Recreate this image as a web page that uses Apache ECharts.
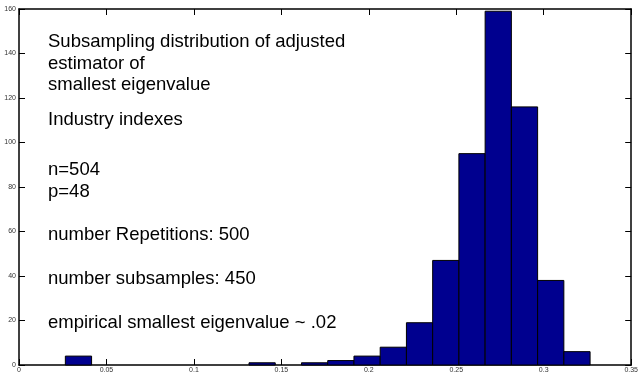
<!DOCTYPE html>
<html>
<head>
<meta charset="utf-8">
<script src="https://cdn.jsdelivr.net/npm/echarts@6/dist/echarts.min.js"></script>
<style>
html,body{margin:0;padding:0;background:#fff;}
#chart{width:641px;height:374px;}
</style>
</head>
<body>
<div id="chart"></div>
<script>
const binStart = [0.0265,0.0415,0.0565,0.0715,0.0865,0.1015,0.1165,0.1315,0.1465,0.1615,0.1765,0.1915,0.2065,0.2215,0.2365,0.2515,0.2665,0.2815,0.2965,0.3115];
const binEnd   = [0.0415,0.0565,0.0715,0.0865,0.1015,0.1165,0.1315,0.1465,0.1615,0.1765,0.1915,0.2065,0.2215,0.2365,0.2515,0.2665,0.2815,0.2965,0.3115,0.3265];
const counts   = [4,0,0,0,0,0,0,1,0,1,2,4,8,19,47,95,159,116,38,6];
const xTickLabels = ['0','0.05','0.1','0.15','0.2','0.25','0.3','0.35'];
const yTickLabels = ['0','20','40','60','80','100','120','140','160'];
const annotationLines = [
  'Subsampling distribution of adjusted',
  'estimator of',
  'smallest eigenvalue',
  'Industry indexes',
  'n=504',
  'p=48',
  'number Repetitions: 500',
  'number subsamples: 450',
  'empirical smallest eigenvalue ~ .02'
];
const annotationY = [42.7, 64, 85, 120, 170.5, 192, 235.8, 279.2, 323];

const chart = echarts.init(document.getElementById('chart'));
const lblFont = {fontSize: 7, color: '#333', fontFamily: 'Liberation Sans, Arial, sans-serif'};
const axisLine = {show: true, onZero: false, lineStyle: {color: '#000', width: 1.5}};
const tick = {show: true, inside: true, length: 6, lineStyle: {color: '#000', width: 1}};

const data = counts.map((c, i) => [binStart[i], binEnd[i], c]);

chart.setOption({
  animation: false,
  backgroundColor: '#fff',
  grid: {left: 19, right: 7, top: 9, bottom: 9, containLabel: false},
  xAxis: [
    {type: 'value', min: 0, max: 0.35, interval: 0.05, position: 'bottom',
     axisLine: axisLine, axisTick: tick, splitLine: {show: false},
     axisLabel: Object.assign({margin: 2, formatter: (v) => xTickLabels[Math.round(v / 0.05)]}, lblFont)},
    {type: 'value', min: 0, max: 0.35, interval: 0.05, position: 'top',
     axisLine: axisLine, axisTick: tick, splitLine: {show: false}, axisLabel: {show: false}}
  ],
  yAxis: [
    {type: 'value', min: 0, max: 160, interval: 20, position: 'left',
     axisLine: axisLine, axisTick: tick, splitLine: {show: false},
     axisLabel: Object.assign({margin: 3, formatter: (v) => yTickLabels[Math.round(v / 20)]}, lblFont)},
    {type: 'value', min: 0, max: 160, interval: 20, position: 'right',
     axisLine: axisLine, axisTick: tick, splitLine: {show: false}, axisLabel: {show: false}}
  ],
  series: [{
    type: 'custom',
    xAxisIndex: 0, yAxisIndex: 0,
    data: data,
    encode: {x: [0, 1], y: 2},
    renderItem: function (params, api) {
      const c = api.value(2);
      if (!c) return null;
      const p0 = api.coord([api.value(0), c]);
      const p1 = api.coord([api.value(1), 0]);
      return {
        type: 'rect',
        shape: {x: p0[0], y: p0[1], width: p1[0] - p0[0], height: p1[1] - p0[1]},
        style: {fill: '#00008F', stroke: '#000', lineWidth: 1}
      };
    }
  }],
  graphic: annotationLines.map((t, i) => ({
    type: 'text', left: 48, top: annotationY[i] - 10, z: 100,
    style: {text: t, font: '18.5px "Liberation Sans", Arial, sans-serif', fill: '#000', textVerticalAlign: 'top'}
  }))
});
</script>
</body>
</html>
